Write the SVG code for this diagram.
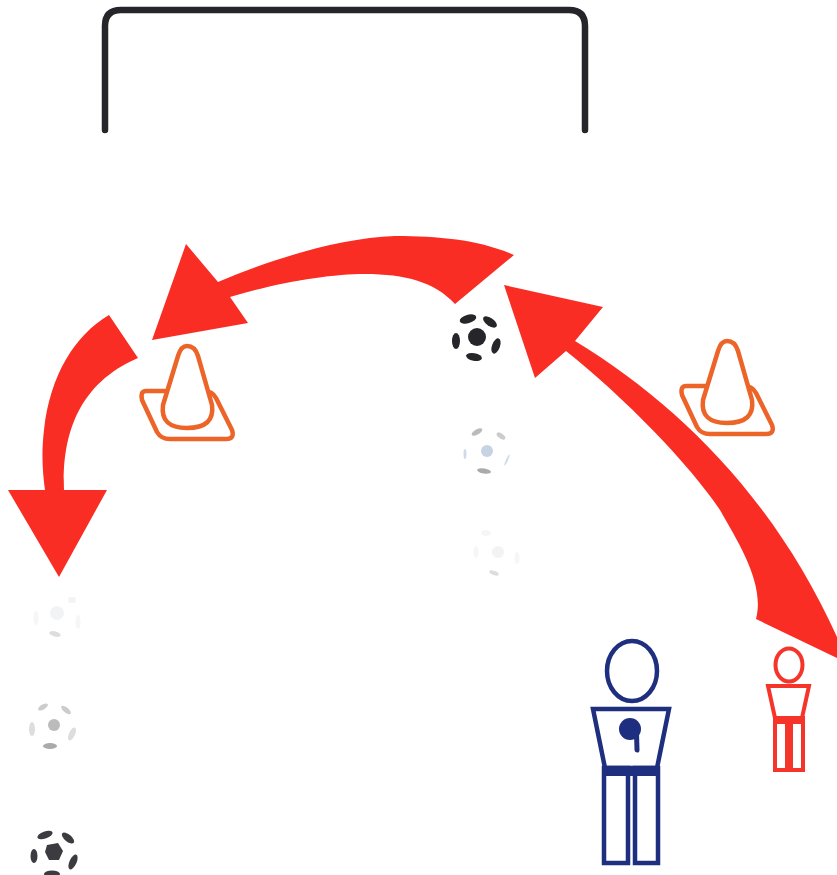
<svg xmlns="http://www.w3.org/2000/svg" width="837" height="875" viewBox="0 0 837 875">
<style>
.arrow{fill:#f92d23}
.cone{fill:#fff;stroke:#ec6428;stroke-width:4.500;stroke-linejoin:round}
.blue{fill:none;stroke:#1f2f80;stroke-width:4.500}
.red{fill:none;stroke:#f5352a;stroke-width:4}
</style>
<defs>
<g id="ball">
<circle cx="0" cy="0" r="9"/>
<ellipse cx="-9" cy="-18" rx="8.500" ry="4.200" transform="rotate(-15 -9 -18)"/>
<ellipse cx="13" cy="-15" rx="8" ry="4" transform="rotate(35 13 -15)"/>
<ellipse cx="-21" cy="4" rx="4" ry="8"/>
<ellipse cx="19" cy="9" rx="4" ry="8" transform="rotate(20 19 9)"/>
<ellipse cx="-3" cy="20" rx="8" ry="3.800" transform="rotate(10 -3 20)"/>
</g>
<g id="cone">
<path class="cone" d="M146,391 H204 Q212,391 216,398 L232,430 Q235,439 226,439 H170 Q161,439 157,432 L142,400 Q140,391 146,391 Z"/>
<path class="cone" d="M178,356 Q181,346 187,346 Q195,346 198,356 L212,405 Q215,428 187,428 Q160,428 163,405 Z"/>
</g>
</defs>
<rect width="837" height="875" fill="#fff"/>
<g id="goal"><path d="M105,130 V26 Q105,10 121,10 H569 Q585,10 585,26 V130" fill="none" stroke="#26262a" stroke-width="6.500" stroke-linecap="round"/></g>
<g id="connectors">
<path class="arrow" d="M837,658 L756,619 C765,585 740,545 720,510 C690,465 625,398 566,351 L535,378 L504,285 L603,307 L575,341 C680,405 775,500 837,637 Z"/>
<path class="arrow" d="M514,255 C480,240 440,236 395,236 C340,238 275,258 218,282 L186,244 L152,340 L248,323 L230,297 C280,282 330,274 365,274 C405,274 435,282 455,304 Z"/>
<path class="arrow" d="M109,315 C75,335 50,375 44,430 C41,455 43,475 45,490 L8,490 L59,577 L107,490 L64,490 C62,440 75,385 138,358 Z"/>
</g>
<g id="cone-left"><use href="#cone"/></g>
<g id="cone-right"><use href="#cone" transform="translate(540 -5)"/></g>
<g id="ball-1"><use href="#ball" transform="translate(477 337)" fill="#26262a"/></g>
<g id="ball-2">
<circle cx="487" cy="451" r="6" fill="#c5d3e3"/>
<ellipse cx="477" cy="432" rx="6" ry="2.500" transform="rotate(-30 477 432)" fill="#bbb"/>
<ellipse cx="501" cy="436" rx="5" ry="2.500" transform="rotate(35 501 436)" fill="#ccc"/>
<ellipse cx="484" cy="471" rx="7" ry="2.500" transform="rotate(10 484 471)" fill="#aaa"/>
<ellipse cx="465" cy="454" rx="1.500" ry="5" fill="#cfdbe8"/>
<ellipse cx="507" cy="460" rx="1" ry="6" transform="rotate(25 507 460)" fill="#cfdbe8"/>
</g>
<g id="ball-3">
<circle cx="498" cy="552" r="6" fill="#f3f3f5"/>
<ellipse cx="494" cy="573" rx="5" ry="2" transform="rotate(20 494 573)" fill="#ddd"/>
<ellipse cx="486" cy="533" rx="5" ry="3" fill="#f6f6f6"/>
<ellipse cx="476" cy="552" rx="2.500" ry="6" fill="#f6f6f6"/>
<ellipse cx="517" cy="558" rx="2.500" ry="6" fill="#f6f6f6"/>
</g>
<g id="ball-4">
<circle cx="57" cy="613" r="7" fill="#f2f3f5"/>
<ellipse cx="55" cy="634" rx="6" ry="2.500" transform="rotate(15 55 634)" fill="#ddd"/>
<ellipse cx="72" cy="600" rx="4" ry="3" fill="#f3f3f3"/>
<ellipse cx="36" cy="618" rx="2.500" ry="7" fill="#f6f6f6"/>
<ellipse cx="78" cy="622" rx="2.500" ry="7" fill="#f6f6f6"/>
</g>
<g id="ball-5">
<circle cx="54" cy="725" r="6" fill="#bbb"/>
<ellipse cx="43" cy="707" rx="5.500" ry="2.500" transform="rotate(-30 43 707)" fill="#ccc"/>
<ellipse cx="66" cy="710" rx="6" ry="2.500" transform="rotate(40 66 710)" fill="#ccc"/>
<ellipse cx="32" cy="729" rx="3" ry="7" fill="#ddd"/>
<ellipse cx="72" cy="734" rx="3" ry="7" transform="rotate(25 72 734)" fill="#ddd"/>
<ellipse cx="50" cy="746" rx="7" ry="3" fill="#aaa"/>
</g>
<g id="ball-6" fill="#3c3c40">
<path d="M47,845 L58,843 L63,851 L59,860 L49,860 L45,852 Z"/>
<ellipse cx="45" cy="835" rx="8" ry="3.500" transform="rotate(-20 45 835)"/>
<ellipse cx="68" cy="838" rx="7.500" ry="3.500" transform="rotate(40 68 838)"/>
<ellipse cx="34" cy="856" rx="3.500" ry="7"/>
<ellipse cx="73" cy="862" rx="3.500" ry="8" transform="rotate(25 73 862)"/>
<ellipse cx="52" cy="874" rx="8" ry="3.500"/>
</g>
<g id="player-blue">
<ellipse class="blue" cx="632" cy="671" rx="25" ry="30"/>
<path class="blue" d="M593,709 H669 L657,768 H605 Z"/>
<rect class="blue" x="604" y="768" width="24" height="95"/>
<rect class="blue" x="635" y="768" width="23" height="95"/>
<rect x="603" y="767" width="56" height="9" fill="#1f2f80"/>
<circle cx="630" cy="729" r="11" fill="#1f2f80"/>
<path d="M636.500,733 L637,750" stroke="#1f2f80" stroke-width="5" stroke-linecap="round" fill="none"/>
</g>
<g id="player-red">
<ellipse class="red" cx="789" cy="665" rx="13.500" ry="16.500"/>
<path class="red" d="M768,686 H809 L802,718 H775 Z"/>
<rect class="red" x="775" y="718" width="12" height="52"/>
<rect class="red" x="791" y="718" width="12" height="52"/>
<rect x="775" y="717" width="28" height="7" fill="#f5352a"/>
<rect x="785" y="720" width="7" height="50" fill="#f5352a"/>
</g>
</svg>
